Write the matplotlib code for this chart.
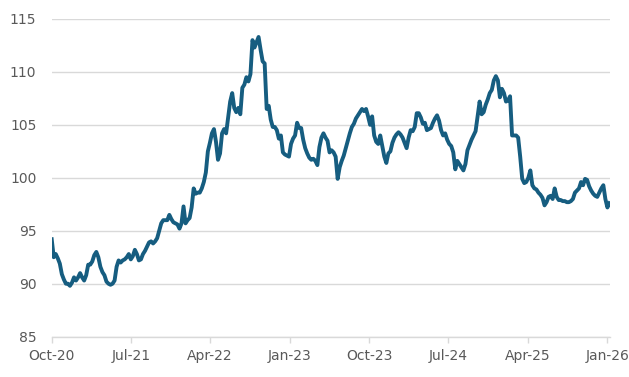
import numpy as np
import pandas as pd
import matplotlib
matplotlib.use("Agg")
import matplotlib.pyplot as plt
import matplotlib.dates as mdates

# weekly index values
start_date = "2020-10-01"
values = [
    94.2, 92.5, 92.8, 92.4, 91.9, 90.9, 90.4, 90.0, 90.0, 89.8,
    90.1, 90.6, 90.3, 90.6, 91.0, 90.6, 90.3, 90.8, 91.8, 91.8,
    92.1, 92.7, 93.0, 92.5, 91.6, 91.1, 90.8, 90.2, 90.0, 89.9,
    90.0, 90.3, 91.6, 92.2, 92.0, 92.2, 92.3, 92.5, 92.8, 92.3,
    92.6, 93.2, 92.8, 92.2, 92.3, 92.8, 93.1, 93.5, 93.9, 94.0,
    93.8, 94.0, 94.3, 95.0, 95.7, 96.0, 96.0, 96.0, 96.5, 96.1,
    95.8, 95.7, 95.6, 95.2, 95.7, 97.3, 95.7, 96.0, 96.2, 97.2,
    99.0, 98.5, 98.6, 98.6, 99.0, 99.6, 100.5, 102.5, 103.3, 104.2,
    104.6, 103.4, 101.7, 102.3, 104.2, 104.6, 104.2, 105.7, 107.2, 108.0,
    106.6, 106.2, 106.6, 106.0, 108.5, 108.8, 109.5, 109.1, 109.8, 113.0,
    112.3, 112.8, 113.3, 112.1, 111.0, 110.8, 106.5, 106.8, 105.5, 104.8,
    104.8, 104.5, 103.7, 104.0, 102.4, 102.2, 102.1, 102.0, 103.2, 103.7,
    104.0, 105.2, 104.7, 104.7, 103.6, 102.8, 102.3, 101.9, 101.7, 101.8,
    101.6, 101.2, 102.9, 103.8, 104.2, 103.8, 103.5, 102.4, 102.6, 102.4,
    102.0, 99.9, 101.0, 101.6, 102.1, 102.8, 103.5, 104.2, 104.8, 105.1,
    105.6, 105.9, 106.2, 106.5, 106.3, 106.5, 105.8, 105.0, 105.8, 104.0,
    103.4, 103.2, 104.0, 103.0, 102.0, 101.4, 102.3, 102.5, 103.3, 103.8,
    104.1, 104.3, 104.1, 103.8, 103.3, 102.8, 103.8, 104.5, 104.4, 104.8,
    106.1, 106.1, 105.7, 105.1, 105.2, 104.5, 104.6, 104.7, 105.2, 105.6,
    105.9, 105.4, 104.5, 104.0, 104.2, 103.6, 103.2, 103.0, 102.4, 100.8,
    101.6, 101.3, 101.0, 100.7, 101.3, 102.6, 103.1, 103.6, 104.0, 104.4,
    105.8, 107.2, 106.0, 106.2, 106.9, 107.4, 108.0, 108.3, 109.2, 109.6,
    109.2, 107.6, 108.4, 108.0, 107.2, 107.3, 107.7, 104.0, 104.0, 104.0,
    103.8, 102.0, 99.9, 99.5, 99.6, 100.0, 100.7, 99.3, 99.0, 98.9,
    98.6, 98.4, 98.1, 97.4, 97.7, 98.2, 98.3, 98.0, 99.0, 98.2,
    97.9, 97.9, 97.8, 97.8, 97.7, 97.7, 97.8, 98.0, 98.6, 98.8,
    99.0, 99.6, 99.3, 99.9, 99.8, 99.2, 98.8, 98.5, 98.3, 98.2,
    98.6, 99.0, 99.3, 98.0, 97.2, 97.6,
]
dates = pd.date_range(start_date, periods=len(values), freq="7D")

tick_dates = pd.to_datetime(["2020-10-01", "2021-07-01", "2022-04-01", "2023-01-01",
                             "2023-10-01", "2024-07-01", "2025-04-01", "2026-01-01"])
y_ticks = [85, 90, 95, 100, 105, 110, 115]

grey = "#d9d9d9"
text_col = "#595959"

fig = plt.figure(figsize=(6.29, 3.77), dpi=100)
ax = fig.add_axes([0.0822, 0.107, 0.8876, 0.8427])

ax.plot(dates, values, color="#165d80", linewidth=2.8, solid_joinstyle="round")

ax.set_ylim(85, 115)
ax.set_yticks(y_ticks)
ax.set_xlim(dates[0], dates[-1] + pd.Timedelta(days=2))
ax.set_xticks(tick_dates)
ax.xaxis.set_major_formatter(mdates.DateFormatter("%b-%y"))

ax.grid(axis="y", color=grey, linewidth=1.0)
ax.set_axisbelow(True)
for s in ["top", "right", "left"]:
    ax.spines[s].set_visible(False)
ax.spines["bottom"].set_color(grey)
ax.spines["bottom"].set_linewidth(1.0)

ax.tick_params(axis="y", length=0, pad=11, labelsize=10, labelcolor=text_col)
ax.tick_params(axis="x", length=4, width=1.0, color=grey, pad=5,
               labelsize=10, labelcolor=text_col)

fig.savefig("out.png", dpi=100)
